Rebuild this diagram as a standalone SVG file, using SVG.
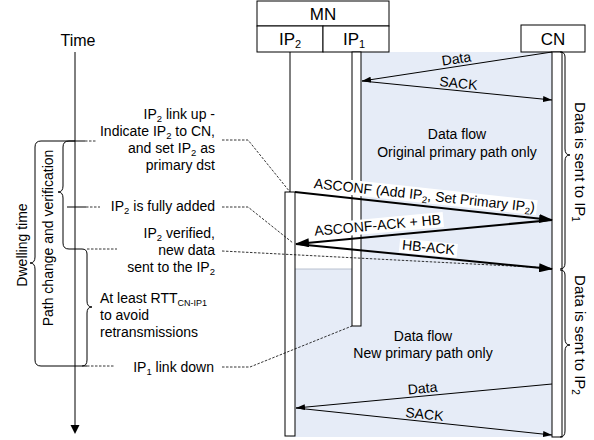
<svg xmlns="http://www.w3.org/2000/svg" width="594" height="440" viewBox="0 0 594 440">
<style>
text{font-family:"Liberation Sans",Arial,sans-serif;fill:#000;font-size:14px}
.hdr{font-size:17px;text-anchor:middle}
.box{fill:#fff;stroke:#000;stroke-width:1}
.thin{stroke:#000;stroke-width:1;fill:none;marker-end:url(#ah)}
.thick{stroke:#000;stroke-width:2;fill:none;marker-end:url(#ahb)}
.dash{stroke:#000;stroke-width:0.8;fill:none;stroke-dasharray:2.5 1.5}
.line{stroke:#000;stroke-width:1;fill:none}
.end{text-anchor:end}
.mid{text-anchor:middle}
.bg{fill:#fff}
</style>
<defs>
<marker id="ah" markerUnits="userSpaceOnUse" markerWidth="9" markerHeight="6" refX="9" refY="3" orient="auto"><path d="M0,0L9,3L0,6z"/></marker>
<marker id="ahb" markerUnits="userSpaceOnUse" markerWidth="14" markerHeight="9" refX="13" refY="4.5" orient="auto"><path d="M0,0L14,4.5L0,9z"/></marker>
</defs>

<g id="shading">
<path d="M352,52H557V437H290V269H352Z" fill="#e6ecf7"/>
<line x1="295" y1="269" x2="352" y2="269" stroke="#aab4c4" stroke-width="0.8"/>
</g>

<g id="mn">
<rect class="box" x="257" y="1" width="132" height="25"/>
<text class="hdr" x="323" y="20">MN</text>
</g>
<g id="ip2">
<rect class="box" x="257" y="26" width="66" height="26"/>
<text class="hdr" x="290" y="45">IP<tspan font-size="11" dy="3">2</tspan></text>
<line class="line" x1="290" y1="52" x2="290" y2="192"/>
<rect class="box" x="285" y="192" width="10" height="244"/>
</g>
<g id="ip1">
<rect class="box" x="323" y="26" width="66" height="26"/>
<text class="hdr" x="354" y="45">IP<tspan font-size="11" dy="3">1</tspan></text>
<rect class="box" x="352" y="52" width="9" height="274"/>
</g>
<g id="cn">
<rect class="box" x="521" y="25" width="64" height="27"/>
<text class="hdr" x="553" y="45">CN</text>
<rect class="box" x="552" y="52" width="10" height="385"/>
</g>

<g id="time-axis">
<text x="78" y="46" font-size="16" text-anchor="middle" style="font-size:16px">Time</text>
<line class="line" x1="75" y1="52" x2="75" y2="426"/>
<path d="M70.5,425L79.5,425L75,434Z"/>
</g>

<g id="braces">
<path class="line" d="M75,141H41Q35,141 35,147V257Q35,263 30,263Q35,263 35,269V360Q35,366 41,366H87"/>
<path class="line" d="M85,141H69Q63,141 63,147V186Q63,192 58,192Q63,192 63,198V243Q63,249 69,249H82Q87,249 87,254V301Q87,307 92,307Q87,307 87,313V360Q87,366 82,366"/>
<path class="line" d="M560,52Q565,52 565,57V149Q565,155 570,155Q565,155 565,161V263Q565,269 560,269"/>
<path class="line" d="M560,270Q565,270 565,275V339Q565,345 570,345Q565,345 565,351V431Q565,437 560,437"/>
<text class="mid" transform="translate(27,245) rotate(-90)">Dwelling time</text>
<text class="mid" transform="translate(53,238) rotate(-90)">Path change and verification</text>
<text class="mid" style="font-size:15px" transform="translate(575,162) rotate(90)">Data is sent to IP<tspan font-size="10" dy="3">1</tspan></text>
<text class="mid" style="font-size:15px" transform="translate(575,335) rotate(90)">Data is sent to IP<tspan font-size="10" dy="3">2</tspan></text>
</g>

<g id="left-labels">
<text class="end" x="215" y="119">IP<tspan font-size="9.5" dy="3">2</tspan><tspan dy="-3"> link up -</tspan></text>
<text class="end" x="215" y="136">Indicate IP<tspan font-size="9.5" dy="3">2</tspan><tspan dy="-3"> to CN,</tspan></text>
<text class="end" x="215" y="153">and set IP<tspan font-size="9.5" dy="3">2</tspan><tspan dy="-3"> as</tspan></text>
<text class="end" x="215" y="170">primary dst</text>
<text class="end" x="215" y="211">IP<tspan font-size="9.5" dy="3">2</tspan><tspan dy="-3"> is fully added</tspan></text>
<text class="end" x="215" y="238">IP<tspan font-size="9.5" dy="3">2</tspan><tspan dy="-3"> verified,</tspan></text>
<text class="end" x="215" y="255">new data</text>
<text class="end" x="215" y="272">sent to the IP<tspan font-size="9.5" dy="3">2</tspan></text>
<text x="100" y="303">At least RTT<tspan font-size="9" dy="3">CN-IP1</tspan></text>
<text x="100" y="320">to avoid</text>
<text x="100" y="337">retransmissions</text>
<text class="end" x="214" y="372">IP<tspan font-size="9.5" dy="3">1</tspan><tspan dy="-3"> link down</tspan></text>
</g>

<g id="flow-labels">
<text class="mid" x="457" y="139">Data flow</text>
<text class="mid" x="457" y="157">Original primary path only</text>
<text class="mid" x="423" y="341">Data flow</text>
<text class="mid" x="423" y="358">New primary path only</text>
</g>

<g id="connectors">
<path class="dash" d="M85,141H96"/>
<path class="line" d="M67,207H86"/>
<path class="dash" d="M86,207H100"/>
<path class="dash" d="M87,249H117"/>
<path class="dash" d="M87,366H115"/>
<path class="dash" d="M222,140H248L290,192"/>
<path class="dash" d="M222,207H248L293,243"/>
<path class="dash" d="M222,251L550,268"/>
<path class="dash" d="M222,367H250L352,326"/>

<line class="thin" x1="552" y1="52" x2="362" y2="81"/>
<line class="thin" x1="362" y1="81" x2="552" y2="100"/>
<line class="thick" x1="295" y1="192" x2="552" y2="220"/>
<line class="thick" x1="552" y1="220" x2="296" y2="244"/>
<line class="thick" x1="296" y1="244" x2="552" y2="269"/>
<line class="thin" x1="552" y1="384" x2="296" y2="408"/>
<line class="thin" x1="296" y1="408" x2="552" y2="435"/>

<text class="mid" transform="translate(457,63.5) rotate(-8.7)">Data</text>
<text class="mid" transform="translate(458,88) rotate(5.7)">SACK</text>
<g transform="translate(424,200) rotate(6.2)">
<rect class="bg" x="-113" y="-12" width="226" height="15"/>
<text class="mid">ASCONF (Add IP<tspan font-size="9.5" dy="3">2</tspan><tspan dy="-3">, Set Primary IP</tspan><tspan font-size="9.5" dy="3">2</tspan><tspan dy="-3">)</tspan></text>
</g>
<g transform="translate(378,230) rotate(-5.3)">
<rect class="bg" x="-66" y="-12" width="132" height="15"/>
<text class="mid">ASCONF-ACK + HB</text>
</g>
<g transform="translate(428,252) rotate(5.6)">
<rect class="bg" x="-29" y="-11" width="58" height="14"/>
<text class="mid">HB-ACK</text>
</g>
<text class="mid" transform="translate(423,393) rotate(-5.4)">Data</text>
<text class="mid" transform="translate(424,419) rotate(6)">SACK</text>
</g>
</svg>
